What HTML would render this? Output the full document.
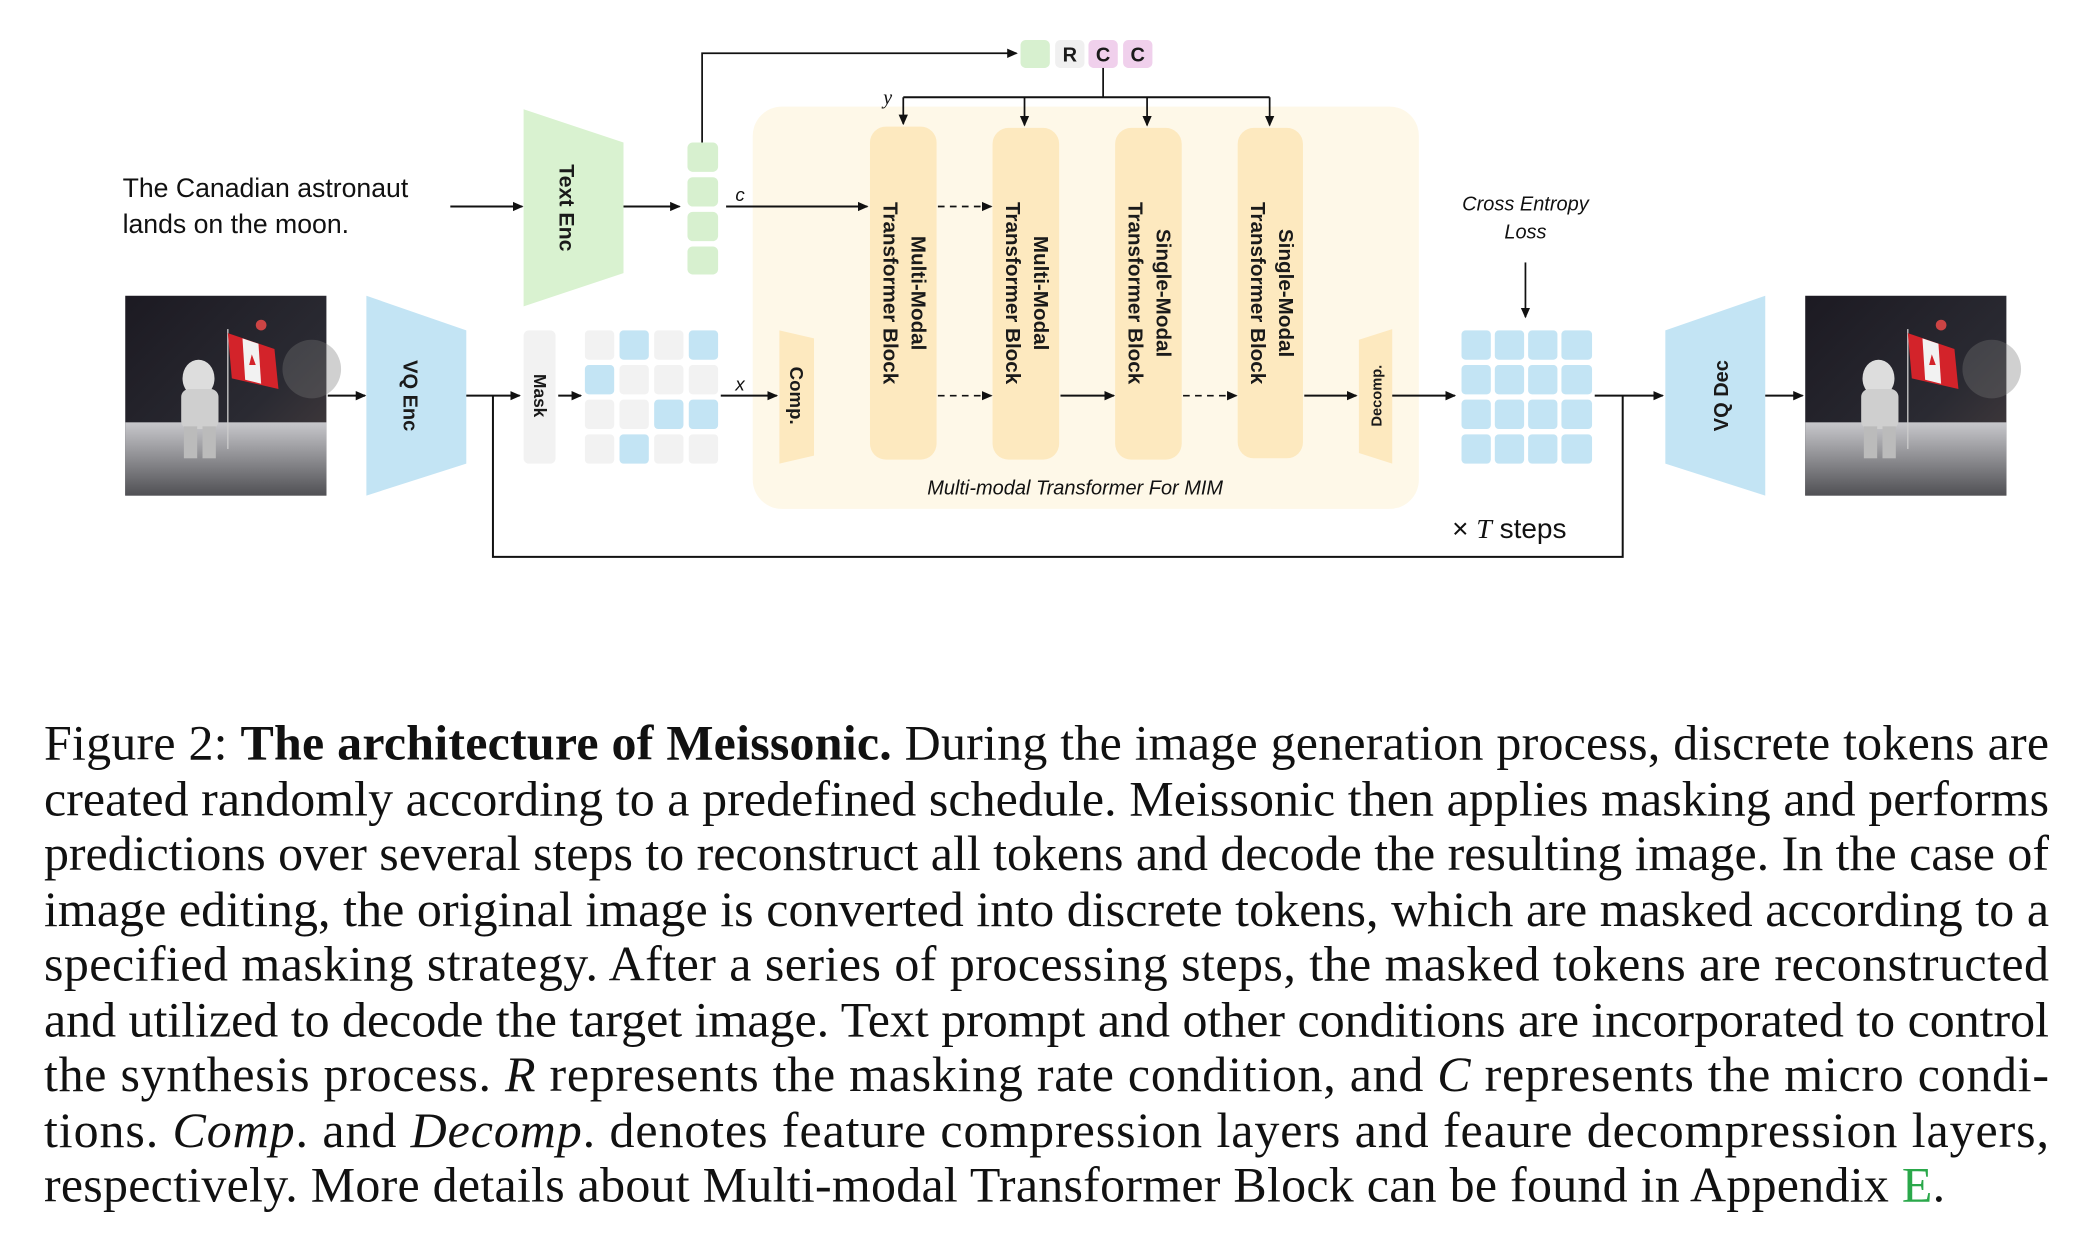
<!DOCTYPE html>
<html><head><meta charset="utf-8"><style>
html,body{margin:0;padding:0;background:#fff;}
svg{display:block;}
.b{font-family:"Liberation Sans",sans-serif;font-weight:bold;fill:#1a1a1a;}
.cap{font-family:"Liberation Serif",serif;font-size:37.5px;fill:#111;}
</style></head><body>
<svg width="2089" height="1237" viewBox="0 0 1568 928.5" xmlns="http://www.w3.org/2000/svg">
<defs>
<marker id="ah" markerWidth="8" markerHeight="8" refX="7" refY="4" orient="auto" markerUnits="userSpaceOnUse">
<path d="M0,0.5 L8,4 L0,7.5 Z" fill="#111"/></marker>
<linearGradient id="sky" x1="0" y1="0" x2="1" y2="1"><stop offset="0" stop-color="#1c1a22"/><stop offset="0.6" stop-color="#2a2a32"/><stop offset="1" stop-color="#4a4040"/></linearGradient>
<linearGradient id="gr" x1="0" y1="0" x2="0" y2="1"><stop offset="0" stop-color="#c8c8cc"/><stop offset="1" stop-color="#505054"/></linearGradient>
<g id="photo">
<rect x="0" y="0" width="151" height="150" fill="url(#sky)"/>
<circle cx="102" cy="22" r="4" fill="#c44"/>
<circle cx="140" cy="55" r="22" fill="#777" opacity="0.35"/>
<rect x="0" y="95" width="151" height="55" fill="url(#gr)"/>
<line x1="77" y1="25" x2="77" y2="115" stroke="#ccc" stroke-width="1"/>
<path d="M77,28 L112,40 L115,70 L80,62 Z" fill="#d3232a"/>
<path d="M88,32 L100,36 L102,66 L90,63 Z" fill="#f2f2f2"/>
<path d="M95,44 l3,8 l-5,0 Z" fill="#d3232a"/>
<ellipse cx="55" cy="62" rx="12" ry="14" fill="#ddd"/>
<rect x="42" y="70" width="28" height="30" rx="6" fill="#cfcfcf"/>
<rect x="44" y="98" width="10" height="24" fill="#bbb"/>
<rect x="58" y="98" width="10" height="24" fill="#bbb"/>
</g>
</defs>

<rect x="565" y="80" width="500" height="302" rx="22" fill="#fef8e8"/>

<text x="92" y="148" font-family="Liberation Sans,sans-serif" font-size="20" fill="#111">The Canadian astronaut</text>
<text x="92" y="175" font-family="Liberation Sans,sans-serif" font-size="20" fill="#111">lands on the moon.</text>
<line x1="338" y1="155" x2="392" y2="155" stroke="#111" stroke-width="1.5" marker-end="url(#ah)"/>

<polygon points="393,82 468,107 468,205 393,230" fill="#d9f2d0"/>
<text class="b" font-size="16" transform="translate(420,156) rotate(90)" text-anchor="middle">Text Enc</text>
<line x1="468" y1="155" x2="510" y2="155" stroke="#111" stroke-width="1.5" marker-end="url(#ah)"/>

<rect x="516" y="107" width="23" height="22" rx="4" fill="#d7f0cf"/>
<rect x="516" y="133" width="23" height="22" rx="4" fill="#d7f0cf"/>
<rect x="516" y="159" width="23" height="22" rx="4" fill="#d7f0cf"/>
<rect x="516" y="185" width="23" height="21" rx="4" fill="#d7f0cf"/>
<polyline points="527,107 527,40 763,40" fill="none" stroke="#111" stroke-width="1.3" marker-end="url(#ah)"/>

<rect x="766" y="30" width="22" height="21" rx="4" fill="#d7f0cf"/>
<rect x="792" y="30" width="22" height="21" rx="4" fill="#f0f0f0"/>
<rect x="817" y="30" width="22" height="21" rx="4" fill="#f0d0ec"/>
<rect x="843" y="30" width="22" height="21" rx="4" fill="#f0d0ec"/>
<text class="b" x="803" y="46" font-size="15" text-anchor="middle">R</text>
<text class="b" x="828" y="46" font-size="15" text-anchor="middle">C</text>
<text class="b" x="854" y="46" font-size="15" text-anchor="middle">C</text>
<line x1="828" y1="51" x2="828" y2="73" stroke="#111" stroke-width="1.3"/>
<line x1="678" y1="73" x2="953" y2="73" stroke="#111" stroke-width="1.5"/>
<line x1="678" y1="73" x2="678" y2="93" stroke="#111" stroke-width="1.3" marker-end="url(#ah)"/>
<line x1="769" y1="73" x2="769" y2="94" stroke="#111" stroke-width="1.3" marker-end="url(#ah)"/>
<line x1="861" y1="73" x2="861" y2="94" stroke="#111" stroke-width="1.3" marker-end="url(#ah)"/>
<line x1="953" y1="73" x2="953" y2="94" stroke="#111" stroke-width="1.3" marker-end="url(#ah)"/>
<text x="663" y="78" font-family="Liberation Serif,serif" font-style="italic" font-size="15" fill="#111">y</text>

<text x="552" y="151" font-family="Liberation Sans,sans-serif" font-style="italic" font-size="14" fill="#111">c</text>
<line x1="545" y1="155" x2="651" y2="155" stroke="#111" stroke-width="1.5" marker-end="url(#ah)"/>

<rect x="653" y="95" width="50" height="250" rx="12" fill="#fde9bf"/>
<rect x="745" y="96" width="50" height="249" rx="12" fill="#fde9bf"/>
<rect x="837" y="96" width="50" height="249" rx="12" fill="#fde9bf"/>
<rect x="929" y="96" width="49" height="248" rx="12" fill="#fde9bf"/>
<g font-size="15.5">
<text class="b" transform="translate(684,220) rotate(90)" text-anchor="middle">Multi-Modal</text>
<text class="b" transform="translate(663,220) rotate(90)" text-anchor="middle">Transformer Block</text>
<text class="b" transform="translate(776,220) rotate(90)" text-anchor="middle">Multi-Modal</text>
<text class="b" transform="translate(755,220) rotate(90)" text-anchor="middle">Transformer Block</text>
<text class="b" transform="translate(868,220) rotate(90)" text-anchor="middle">Single-Modal</text>
<text class="b" transform="translate(847,220) rotate(90)" text-anchor="middle">Transformer Block</text>
<text class="b" transform="translate(960,220) rotate(90)" text-anchor="middle">Single-Modal</text>
<text class="b" transform="translate(939,220) rotate(90)" text-anchor="middle">Transformer Block</text>
</g>
<line x1="704" y1="155" x2="744" y2="155" stroke="#111" stroke-width="1.3" stroke-dasharray="5,4" marker-end="url(#ah)"/>
<line x1="704" y1="297" x2="744" y2="297" stroke="#111" stroke-width="1.3" stroke-dasharray="5,4" marker-end="url(#ah)"/>
<line x1="796" y1="297" x2="836" y2="297" stroke="#111" stroke-width="1.5" marker-end="url(#ah)"/>
<line x1="888" y1="297" x2="928" y2="297" stroke="#111" stroke-width="1.3" stroke-dasharray="5,4" marker-end="url(#ah)"/>
<line x1="979" y1="297" x2="1018" y2="297" stroke="#111" stroke-width="1.5" marker-end="url(#ah)"/>

<polygon points="585,248 611,254 611,342 585,348" fill="#fde9bf"/>
<text class="b" font-size="14" transform="translate(593,297) rotate(90)" text-anchor="middle">Comp.</text>
<polygon points="1020,255 1045,247 1045,348 1020,340" fill="#fde9bf"/>
<text class="b" font-size="11" transform="translate(1037,297) rotate(-90)" text-anchor="middle">Decomp.</text>
<text x="807" y="371" font-family="Liberation Sans,sans-serif" font-style="italic" font-size="15" fill="#111" text-anchor="middle">Multi-modal Transformer For MIM</text>

<use href="#photo" x="94" y="222"/>
<line x1="246" y1="297" x2="274" y2="297" stroke="#111" stroke-width="1.5" marker-end="url(#ah)"/>
<polygon points="275,222 350,248 350,348 275,372" fill="#c3e4f4"/>
<text class="b" font-size="15" transform="translate(303,297) rotate(90)" text-anchor="middle">VQ Enc</text>
<line x1="350" y1="297" x2="390" y2="297" stroke="#111" stroke-width="1.5" marker-end="url(#ah)"/>
<polyline points="370,297 370,418 1218,418 1218,297" fill="none" stroke="#111" stroke-width="1.5"/>

<rect x="393" y="248" width="24" height="100" rx="4" fill="#f2f2f2"/>
<text class="b" font-size="13" transform="translate(401,297) rotate(90)" text-anchor="middle">Mask</text>
<line x1="419" y1="297" x2="436" y2="297" stroke="#111" stroke-width="1.5" marker-end="url(#ah)"/>

<g>
<rect x="439" y="248" width="22" height="22" rx="3" fill="#f2f2f2"/><rect x="465" y="248" width="22" height="22" rx="3" fill="#c3e4f4"/><rect x="491" y="248" width="22" height="22" rx="3" fill="#f2f2f2"/><rect x="517" y="248" width="22" height="22" rx="3" fill="#c3e4f4"/>
<rect x="439" y="274" width="22" height="22" rx="3" fill="#c3e4f4"/><rect x="465" y="274" width="22" height="22" rx="3" fill="#f2f2f2"/><rect x="491" y="274" width="22" height="22" rx="3" fill="#f2f2f2"/><rect x="517" y="274" width="22" height="22" rx="3" fill="#f2f2f2"/>
<rect x="439" y="300" width="22" height="22" rx="3" fill="#f2f2f2"/><rect x="465" y="300" width="22" height="22" rx="3" fill="#f2f2f2"/><rect x="491" y="300" width="22" height="22" rx="3" fill="#c3e4f4"/><rect x="517" y="300" width="22" height="22" rx="3" fill="#c3e4f4"/>
<rect x="439" y="326" width="22" height="22" rx="3" fill="#f2f2f2"/><rect x="465" y="326" width="22" height="22" rx="3" fill="#c3e4f4"/><rect x="491" y="326" width="22" height="22" rx="3" fill="#f2f2f2"/><rect x="517" y="326" width="22" height="22" rx="3" fill="#f2f2f2"/>
</g>
<text x="552" y="293" font-family="Liberation Sans,sans-serif" font-style="italic" font-size="14" fill="#111">x</text>
<line x1="541" y1="297" x2="583" y2="297" stroke="#111" stroke-width="1.5" marker-end="url(#ah)"/>

<line x1="1045" y1="297" x2="1092" y2="297" stroke="#111" stroke-width="1.5" marker-end="url(#ah)"/>
<g fill="#c3e4f4">
<rect x="1097" y="248" width="22" height="22" rx="3"/><rect x="1122" y="248" width="22" height="22" rx="3"/><rect x="1147" y="248" width="22" height="22" rx="3"/><rect x="1172" y="248" width="23" height="22" rx="3"/>
<rect x="1097" y="274" width="22" height="22" rx="3"/><rect x="1122" y="274" width="22" height="22" rx="3"/><rect x="1147" y="274" width="22" height="22" rx="3"/><rect x="1172" y="274" width="23" height="22" rx="3"/>
<rect x="1097" y="300" width="22" height="22" rx="3"/><rect x="1122" y="300" width="22" height="22" rx="3"/><rect x="1147" y="300" width="22" height="22" rx="3"/><rect x="1172" y="300" width="23" height="22" rx="3"/>
<rect x="1097" y="326" width="22" height="22" rx="3"/><rect x="1122" y="326" width="22" height="22" rx="3"/><rect x="1147" y="326" width="22" height="22" rx="3"/><rect x="1172" y="326" width="23" height="22" rx="3"/>
</g>
<text x="1145" y="158" font-family="Liberation Sans,sans-serif" font-style="italic" font-size="15" fill="#111" text-anchor="middle">Cross Entropy</text>
<text x="1145" y="179" font-family="Liberation Sans,sans-serif" font-style="italic" font-size="15" fill="#111" text-anchor="middle">Loss</text>
<line x1="1145" y1="197" x2="1145" y2="238" stroke="#111" stroke-width="1.3" marker-end="url(#ah)"/>
<line x1="1197" y1="297" x2="1248" y2="297" stroke="#111" stroke-width="1.5" marker-end="url(#ah)"/>

<polygon points="1250,248 1325,222 1325,372 1250,348" fill="#c3e4f4"/>
<text class="b" font-size="15" transform="translate(1297,297) rotate(-90)" text-anchor="middle">VQ Dec</text>
<line x1="1325" y1="297" x2="1353" y2="297" stroke="#111" stroke-width="1.5" marker-end="url(#ah)"/>
<use href="#photo" x="1355" y="222"/>

<text x="1090" y="404" font-family="Liberation Sans,sans-serif" font-size="21" fill="#111">× <tspan font-family="Liberation Serif,serif" font-style="italic">T</tspan>  steps</text>

<text class="cap" x="33" y="570" textLength="1505" lengthAdjust="spacing">Figure 2: <tspan font-weight="bold">The architecture of Meissonic.</tspan> During the image generation process, discrete tokens are</text>
<text class="cap" x="33" y="612" textLength="1505" lengthAdjust="spacing">created randomly according to a predefined schedule. Meissonic then applies masking and performs</text>
<text class="cap" x="33" y="653" textLength="1505" lengthAdjust="spacing">predictions over several steps to reconstruct all tokens and decode the resulting image. In the case of</text>
<text class="cap" x="33" y="695" textLength="1505" lengthAdjust="spacing">image editing, the original image is converted into discrete tokens, which are masked according to a</text>
<text class="cap" x="33" y="736" textLength="1505" lengthAdjust="spacing">specified masking strategy.  After a series of processing steps, the masked tokens are reconstructed</text>
<text class="cap" x="33" y="778" textLength="1505" lengthAdjust="spacing">and utilized to decode the target image. Text prompt and other conditions are incorporated to control</text>
<text class="cap" x="33" y="819" textLength="1505" lengthAdjust="spacing">the synthesis process.  <tspan font-style="italic">R</tspan> represents the masking rate condition, and <tspan font-style="italic">C</tspan> represents the micro condi-</text>
<text class="cap" x="33" y="861" textLength="1505" lengthAdjust="spacing">tions.  <tspan font-style="italic">Comp</tspan>. and <tspan font-style="italic">Decomp</tspan>. denotes feature compression layers and feaure decompression layers,</text>
<text class="cap" x="33" y="902" textLength="1427" lengthAdjust="spacing">respectively. More details about Multi-modal Transformer Block can be found in Appendix <tspan fill="#2aa84a">E</tspan>.</text>
</svg>
</body></html>
